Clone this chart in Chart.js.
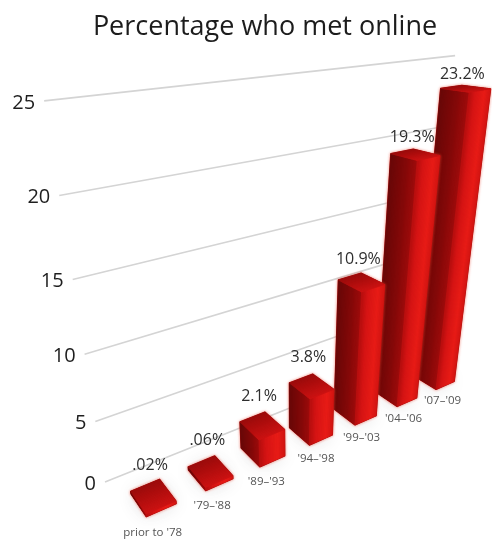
<!DOCTYPE html>
<html>
<head>
<meta charset="utf-8">
<title>Percentage who met online</title>
<script src="https://cdn.jsdelivr.net/npm/chart.js@4"></script>
<style>
  html, body { margin: 0; padding: 0; background: #fff; }
  #wrap { position: relative; width: 492px; height: 539px; }
</style>
</head>
<body>
<div id="wrap"><canvas id="metOnline"></canvas></div>
<script>
// --- Chart data ---
const periods = ["prior to '78", "'79\u2013'88", "'89\u2013'93", "'94\u2013'98", "'99\u2013'03", "'04\u2013'06", "'07\u2013'09"];
const percentMet = [0.02, 0.06, 2.1, 3.8, 10.9, 19.3, 23.2];
const percentLabels = [".02%", ".06%", "2.1%", "3.8%", "10.9%", "19.3%", "23.2%"];
const yTicks = [0, 5, 10, 15, 20, 25];

// --- Camera: vanishing points of the three box directions ---
const ORIGIN = [105, 482];
const VP_X = [1442, -53];
const VP_Y = [294, 1666];
const VP_Z = [-198, 4];
const K_X = 0.315;
const K_Y = -0.00974;

// --- Box depth (towards the viewer) ---
const DEPTH_BACK = -0.0325;
const DEPTH_FRONT = -0.076;

// --- Face shading, as [position, r, g, b] ---
const LEFT_SHADE = [[0, 104, 7, 7], [0.6, 132, 9, 9], [1, 160, 11, 11]];
const FRONT_SHADE = [[0, 184, 14, 14], [0.25, 214, 20, 20], [0.7, 232, 28, 22], [1, 210, 20, 18]];
const TOP_SHADE = [[0, 156, 11, 11], [0.6, 184, 15, 15], [1, 204, 18, 18]];
const STRIPS = 18;

const FONT = '"Open Sans", sans-serif';

// x runs 0..1 across the plot, y is the axis value, q the depth
function project(x, y, q) {
    const kx = K_X * x, ky = K_Y * y;
    const w = 1 + kx + ky + q;
    return [
        (ORIGIN[0] + kx * VP_X[0] + ky * VP_Y[0] + q * VP_Z[0]) / w,
        (ORIGIN[1] + kx * VP_X[1] + ky * VP_Y[1] + q * VP_Z[1]) / w
    ];
}

function fillPoly(ctx, pts) {
    ctx.beginPath();
    pts.forEach((p, i) => i ? ctx.lineTo(p[0], p[1]) : ctx.moveTo(p[0], p[1]));
    ctx.closePath();
    ctx.fill();
    ctx.stroke();
}

function shadeAt(stops, t) {
    let i = 0;
    while (i < stops.length - 2 && t > stops[i + 1][0]) i++;
    const a = stops[i], b = stops[i + 1];
    const f = (t - a[0]) / (b[0] - a[0]);
    const c = [1, 2, 3].map(k => Math.round(a[k] + (b[k] - a[k]) * f));
    return 'rgb(' + c.join(',') + ')';
}

// Paints a face as thin strips so the shading follows the perspective
function shadedFace(ctx, stops, edge) {
    for (let k = STRIPS - 1; k >= 0; k--) {
        ctx.fillStyle = ctx.strokeStyle = shadeAt(stops, (k + 0.5) / STRIPS);
        fillPoly(ctx, edge(k / STRIPS, (k + 1) / STRIPS));
    }
}

// Draws one bar from the values the bar element resolved through the scales
function drawBox(ctx, box) {
    const { x0, x1, top, base } = box;
    const tl = project(x0, top, DEPTH_BACK), tb = project(x1, top, DEPTH_BACK);
    const tr = project(x1, top, DEPTH_FRONT);
    const bl = project(x0, base, DEPTH_BACK), bf = project(x0, base, DEPTH_FRONT), br = project(x1, base, DEPTH_FRONT);
    const depthAt = t => DEPTH_BACK + (DEPTH_FRONT - DEPTH_BACK) * t;
    const widthAt = t => x0 + (x1 - x0) * t;

    ctx.lineJoin = 'round';

    // pink fringe round the silhouette
    ctx.save();
    ctx.lineWidth = 1.5;
    ctx.shadowColor = 'rgba(235,70,50,0.55)';
    ctx.shadowBlur = 3;
    ctx.fillStyle = ctx.strokeStyle = '#a00c0c';
    fillPoly(ctx, [tl, tb, tr, br, bf, bl]);
    ctx.restore();

    ctx.lineWidth = 0.8;

    // left face
    shadedFace(ctx, LEFT_SHADE, (a, b) => [
        project(x0, top, depthAt(a)), project(x0, top, depthAt(b)),
        project(x0, base, depthAt(b)), project(x0, base, depthAt(a))
    ]);

    // front face
    shadedFace(ctx, FRONT_SHADE, (a, b) => [
        project(widthAt(a), top, DEPTH_FRONT), project(widthAt(b), top, DEPTH_FRONT),
        project(widthAt(b), base, DEPTH_FRONT), project(widthAt(a), base, DEPTH_FRONT)
    ]);

    // top face
    shadedFace(ctx, TOP_SHADE, (a, b) => [
        project(x0, top, depthAt(a)), project(x1, top, depthAt(a)),
        project(x1, top, depthAt(b)), project(x0, top, depthAt(b))
    ]);
}

// ================================================================
// Perspective plugin: grid, ticks, boxes and labels
// ================================================================
const perspectiveBars = {
    id: 'perspectiveBars',

    beforeDatasetDraw(chart) {
        const ctx = chart.ctx;
        const area = chart.chartArea;
        const yScale = chart.scales.y;
        const bars = chart.getDatasetMeta(0).data;
        const toX = px => (px - area.left) / area.width;

        // grid lines and their tick labels
        ctx.save();
        yScale.ticks.forEach(tick => {
            const value = yScale.getValueForPixel(yScale.getPixelForValue(tick.value));
            const start = project(0, value, 0);
            const end = project(1, value, 0);
            ctx.strokeStyle = '#d4d4d4';
            ctx.lineWidth = 1.6;
            ctx.beginPath();
            ctx.moveTo(start[0], start[1]);
            ctx.lineTo(end[0], end[1]);
            ctx.stroke();

            ctx.fillStyle = '#1e1e1e';
            ctx.font = '20px ' + FONT;
            ctx.textAlign = 'right';
            ctx.textBaseline = 'middle';
            ctx.fillText(String(tick.value), start[0] - 9, start[1] + 2);
        });
        ctx.restore();

        const boxes = bars.map(bar => {
            const p = bar.getProps(['x', 'y', 'base', 'width'], true);
            return {
                x0: toX(p.x - p.width / 2),
                x1: toX(p.x + p.width / 2),
                top: yScale.getValueForPixel(p.y),
                base: yScale.getValueForPixel(p.base)
            };
        });

        // soft floor shadow
        ctx.save();
        ctx.shadowColor = 'rgba(60,60,70,0.38)';
        ctx.shadowBlur = 18;
        ctx.fillStyle = ctx.strokeStyle = 'rgba(200,200,205,0.35)';
        boxes.forEach(b => {
            fillPoly(ctx, [
                project(b.x0, b.base, DEPTH_BACK), project(b.x1, b.base, DEPTH_BACK),
                project(b.x1, b.base, DEPTH_FRONT), project(b.x0, b.base, DEPTH_FRONT)
            ]);
        });
        ctx.restore();

        // nearer boxes overlap the ones behind, so paint from the far end
        ctx.save();
        for (let i = boxes.length - 1; i >= 0; i--) drawBox(ctx, boxes[i]);
        ctx.restore();

        // value labels above the boxes, period labels on the floor
        ctx.save();
        ctx.textAlign = 'center';
        ctx.textBaseline = 'middle';
        boxes.forEach((b, i) => {
            const mid = project((b.x0 + b.x1) / 2, b.top, (DEPTH_BACK + DEPTH_FRONT) / 2);
            const lift = 31 - 0.72 * b.top;
            ctx.fillStyle = '#2e2e2e';
            ctx.font = '16px ' + FONT;
            ctx.fillText(percentLabels[i], mid[0] - 3, mid[1] - lift);

            const foot = project(b.x0, -1, -0.09);
            ctx.fillStyle = '#555';
            ctx.font = '11.5px ' + FONT;
            ctx.fillText(periods[i], foot[0], foot[1] - 1);
        });
        ctx.restore();

        return false; // the flat bar is replaced by the box
    }
};

// ================================================================
// Chart setup
// ================================================================
new Chart(document.getElementById('metOnline').getContext('2d'), {
    type: 'bar',
    data: {
        labels: periods,
        datasets: [{
            label: 'Percentage who met online',
            data: percentMet,
            base: -0.2, // thin slab so the smallest values still read as boxes
            backgroundColor: '#d61414',
            categoryPercentage: 1,
            barPercentage: 0.49
        }]
    },
    options: {
        responsive: true,
        maintainAspectRatio: false,
        animation: false,
        layout: { padding: { left: 38 } },
        plugins: {
            legend: { display: false },
            tooltip: { enabled: false },
            title: {
                display: true,
                fullSize: false,
                text: 'Percentage who met online',
                color: '#1c1c1c',
                font: { family: '"Open Sans", sans-serif', size: 27, weight: 'normal' },
                padding: { top: 11, bottom: 20 }
            }
        },
        scales: {
            x: { display: false },
            y: {
                display: false,
                min: 0,
                max: 25,
                afterBuildTicks(scale) { scale.ticks = yTicks.map(v => ({ value: v })); }
            }
        }
    },
    plugins: [perspectiveBars]
});
</script>
</body>
</html>
